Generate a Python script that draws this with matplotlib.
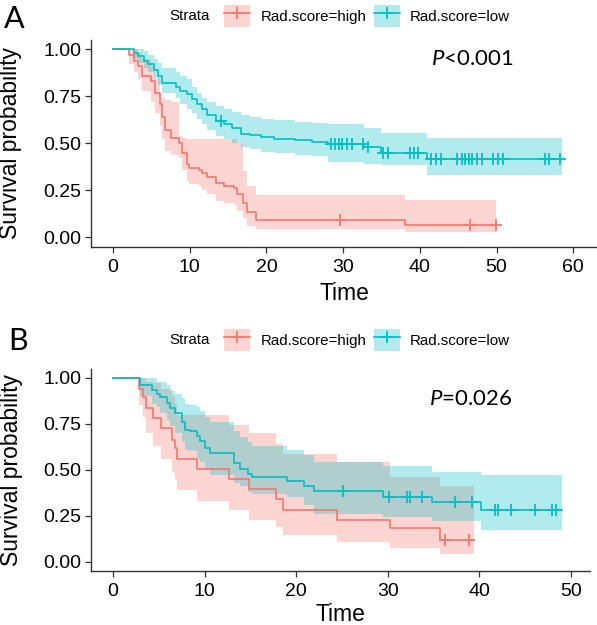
import matplotlib
matplotlib.use("Agg")
import matplotlib.pyplot as plt
import numpy as np
from matplotlib.lines import Line2D
from matplotlib.patches import Patch

plt.rcParams["mathtext.fontset"] = "custom"
plt.rcParams["mathtext.rm"] = "Lato"
plt.rcParams["mathtext.it"] = "Lato:italic"

RED = "#F8766D"
TEAL = "#00BFC4"

# panel A, Rad.score=high
a_high_time = [0, 2.1, 2.7, 3.3, 3.8, 4.9, 5.5, 6.1, 6.4, 6.8, 7.5, 8.6, 9.0, 9.7, 9.9,
               11.2, 11.6, 12.3, 13.4, 14.5, 15.8, 16.2, 16.9, 17.5, 18.6, 38.1]
a_high_surv = [1, 0.97, 0.94, 0.91, 0.86, 0.83, 0.77, 0.71, 0.64, 0.57, 0.53, 0.50, 0.45, 0.39, 0.37,
               0.36, 0.34, 0.32, 0.29, 0.27, 0.26, 0.23, 0.18, 0.135, 0.09, 0.065]
a_high_lower = [1, 0.92, 0.88, 0.84, 0.78, 0.72, 0.66, 0.59, 0.52, 0.46, 0.44, 0.42, 0.36, 0.30, 0.285,
                0.27, 0.25, 0.23, 0.19, 0.18, 0.17, 0.14, 0.10, 0.06, 0.045, 0.025]
a_high_upper = [1, 1, 1, 0.98, 0.95, 0.91, 0.85, 0.76, 0.74, 0.73, 0.72, 0.54, 0.53, 0.52, 0.52,
                0.52, 0.52, 0.52, 0.52, 0.52, 0.52, 0.50, 0.35, 0.27, 0.225, 0.20]
a_high_censor = [29.6, 46.5, 49.9]
a_high_end = 49.9

# panel A, Rad.score=low
a_low_time = [0, 2.7, 3.3, 4.0, 4.6, 5.3, 5.9, 6.4, 8.2, 8.8, 9.7, 10.3, 11.0, 11.6, 12.3, 13.4,
              14.5, 15.5, 16.7, 17.8, 19.3, 21.0, 23.7, 26.0, 28.0, 32.7, 35.0, 41.0]
a_low_surv = [1, 0.98, 0.965, 0.94, 0.92, 0.89, 0.86, 0.82, 0.80, 0.78, 0.76, 0.735, 0.71, 0.68, 0.65, 0.62,
              0.60, 0.58, 0.55, 0.545, 0.534, 0.525, 0.515, 0.505, 0.497, 0.48, 0.447, 0.415]
a_low_lower = [1, 0.95, 0.93, 0.90, 0.88, 0.85, 0.81, 0.77, 0.74, 0.71, 0.68, 0.66, 0.63, 0.60, 0.57, 0.54,
               0.52, 0.50, 0.48, 0.47, 0.455, 0.45, 0.44, 0.43, 0.40, 0.39, 0.383, 0.33]
a_low_upper = [1, 1, 1, 0.99, 0.97, 0.95, 0.93, 0.90, 0.88, 0.86, 0.84, 0.80, 0.77, 0.74, 0.72, 0.70,
               0.68, 0.665, 0.65, 0.64, 0.63, 0.625, 0.615, 0.61, 0.605, 0.58, 0.555, 0.527]
a_low_censor = [14.1, 28.4, 28.9, 29.4, 29.9, 30.5, 31.1, 32.6, 33.3, 35.2, 35.9, 38.7, 39.2, 39.7,
                41.5, 42.1, 42.8, 44.8, 45.5, 45.9, 46.4, 46.8, 47.5, 48.1, 49.6, 50.2, 50.8,
                56.3, 56.9, 58.3]
a_low_end = 58.5

# panel B, Rad.score=high
b_high_time = [0, 2.86, 3.3, 3.66, 4.4, 5.3, 6.4, 6.8, 7.0, 9.2, 12.7, 14.9, 17.8, 18.6, 24.5, 30.2, 35.7]
b_high_surv = [1, 0.94, 0.896, 0.834, 0.78, 0.727, 0.664, 0.62, 0.557, 0.504, 0.45, 0.396, 0.343, 0.28,
               0.227, 0.182, 0.12]
b_high_lower = [1, 0.85, 0.79, 0.70, 0.63, 0.56, 0.49, 0.45, 0.39, 0.33, 0.28, 0.23, 0.19, 0.146,
                0.11, 0.075, 0.04]
b_high_upper = [1, 1, 1, 0.98, 0.97, 0.94, 0.90, 0.86, 0.80, 0.80, 0.745, 0.70, 0.64, 0.584,
                0.54, 0.46, 0.41]
b_high_censor = [36.3, 38.9]
b_high_end = 39.4

# panel B, Rad.score=low
b_low_time = [0, 2.9, 4.3, 4.8, 5.1, 5.9, 6.2, 6.8, 7.5, 7.9, 8.4, 9.2, 9.5, 10.1, 10.6, 13.2, 13.9,
              14.7, 15.2, 19.0, 20.9, 22.0, 29.5, 34.8, 40.2]
b_low_surv = [1, 0.959, 0.932, 0.914, 0.896, 0.861, 0.834, 0.807, 0.7625, 0.718, 0.709, 0.682, 0.655,
              0.62, 0.593, 0.539, 0.504, 0.477, 0.459, 0.441, 0.414, 0.3875, 0.353, 0.326, 0.281]
b_low_lower = [1, 0.90, 0.86, 0.84, 0.81, 0.77, 0.74, 0.70, 0.65, 0.61, 0.60, 0.56, 0.54, 0.50, 0.47,
               0.43, 0.41, 0.38, 0.37, 0.35, 0.31, 0.26, 0.245, 0.22, 0.175]
b_low_upper = [1, 1, 1, 0.98, 0.977, 0.96, 0.93, 0.91, 0.89, 0.86, 0.85, 0.84, 0.82, 0.79, 0.76,
               0.71, 0.68, 0.65, 0.63, 0.61, 0.58, 0.54, 0.52, 0.49, 0.47]
b_low_censor = [25.1, 30.1, 32.1, 32.4, 33.7, 37.3, 39.2, 41.7, 42.1, 43.5, 46.1, 47.9, 48.4]
b_low_end = 49.0

a_pvalue = "$\\it{P}$<0.001"
b_pvalue = "$\\it{P}$=0.026"


def draw_curve(ax, time, surv, lower, upper, censor, end, color):
    t = list(time) + [end]
    s = list(surv) + [surv[-1]]
    lo = list(lower) + [lower[-1]]
    up = list(upper) + [upper[-1]]
    ax.fill_between(t, lo, up, step="post", color=color, alpha=0.3, linewidth=0)
    ax.step(t, s, where="post", color=color, linewidth=1.2)
    idx = np.searchsorted(time, censor, side="right") - 1
    ax.plot(censor, np.array(surv)[idx], linestyle="none", marker="+",
            markersize=9, markeredgewidth=1.3, color=color)


def style_axes(ax, xmax_tick, xlim, xlabelpad):
    ax.set_xlim(*xlim)
    ax.set_ylim(-0.05, 1.05)
    ax.set_xticks(np.arange(0, xmax_tick + 1, 10))
    ax.set_yticks([0, 0.25, 0.5, 0.75, 1.0])
    ax.set_yticklabels(["0.00", "0.25", "0.50", "0.75", "1.00"])
    for side in ["top", "right"]:
        ax.spines[side].set_visible(False)
    for side in ["left", "bottom"]:
        ax.spines[side].set_color("#333333")
        ax.spines[side].set_linewidth(1.0)
    ax.tick_params(direction="out", length=4, width=0.9, color="#333333",
                   labelsize=14, labelcolor="black")
    ax.tick_params(axis="x", pad=5)
    ax.tick_params(axis="y", pad=3)
    for lab in ax.get_xticklabels() + ax.get_yticklabels():
        lab.set_family("Liberation Sans")
    ax.set_xlabel("Time", fontsize=16.5, family="Liberation Sans", labelpad=xlabelpad)
    ax.set_ylabel("Survival probability", fontsize=16.5, family="Liberation Sans")
    ax.yaxis.set_label_coords(-0.137, 0.5)


def draw_legend(fig, y):
    handles = [
        (Patch(facecolor=RED, alpha=0.3, linewidth=0),
         Line2D([], [], color=RED, marker="+", markersize=9, markeredgewidth=1.3, linewidth=1.2)),
        (Patch(facecolor=TEAL, alpha=0.3, linewidth=0),
         Line2D([], [], color=TEAL, marker="+", markersize=9, markeredgewidth=1.3, linewidth=1.2)),
    ]
    fig.legend(handles, ["Rad.score=high", "Rad.score=low"], loc="center",
               bbox_to_anchor=(0.615, y), ncol=2, frameon=False,
               prop={"family": "Liberation Sans", "size": 10.9},
               handlelength=1.7, handleheight=1.9, columnspacing=0.5, handletextpad=0.7)
    fig.text(0.318, y, "Strata", ha="center", va="center",
             family="Liberation Sans", fontsize=10.9)


fig = plt.figure(figsize=(5.97, 6.25), dpi=100)
ax1 = fig.add_axes([0.1524, 0.6056, 0.8476, 0.3304])
ax2 = fig.add_axes([0.1524, 0.0864, 0.836, 0.3237])

draw_curve(ax1, a_high_time, a_high_surv, a_high_lower, a_high_upper, a_high_censor, a_high_end, RED)
draw_curve(ax1, a_low_time, a_low_surv, a_low_lower, a_low_upper, a_low_censor, a_low_end, TEAL)
style_axes(ax1, 60, (-2.87, 63.1), 4)
ax1.text(46.9, 0.95, a_pvalue, ha="center", va="center", fontsize=16, family="Lato")

draw_curve(ax2, b_high_time, b_high_surv, b_high_lower, b_high_upper, b_high_censor, b_high_end, RED)
draw_curve(ax2, b_low_time, b_low_surv, b_low_lower, b_low_upper, b_low_censor, b_low_end, TEAL)
style_axes(ax2, 50, (-2.4, 52.1), 1.5)
ax2.text(39.05, 0.887, b_pvalue, ha="center", va="center", fontsize=16, family="Lato")

draw_legend(fig, 0.974)
draw_legend(fig, 0.456)

fig.text(0.006, 0.97, "A", fontsize=22, family="Lato", va="center")
fig.text(0.014, 0.4544, "B", fontsize=22, family="Lato", va="center")

fig.savefig("out.png", dpi=100)
